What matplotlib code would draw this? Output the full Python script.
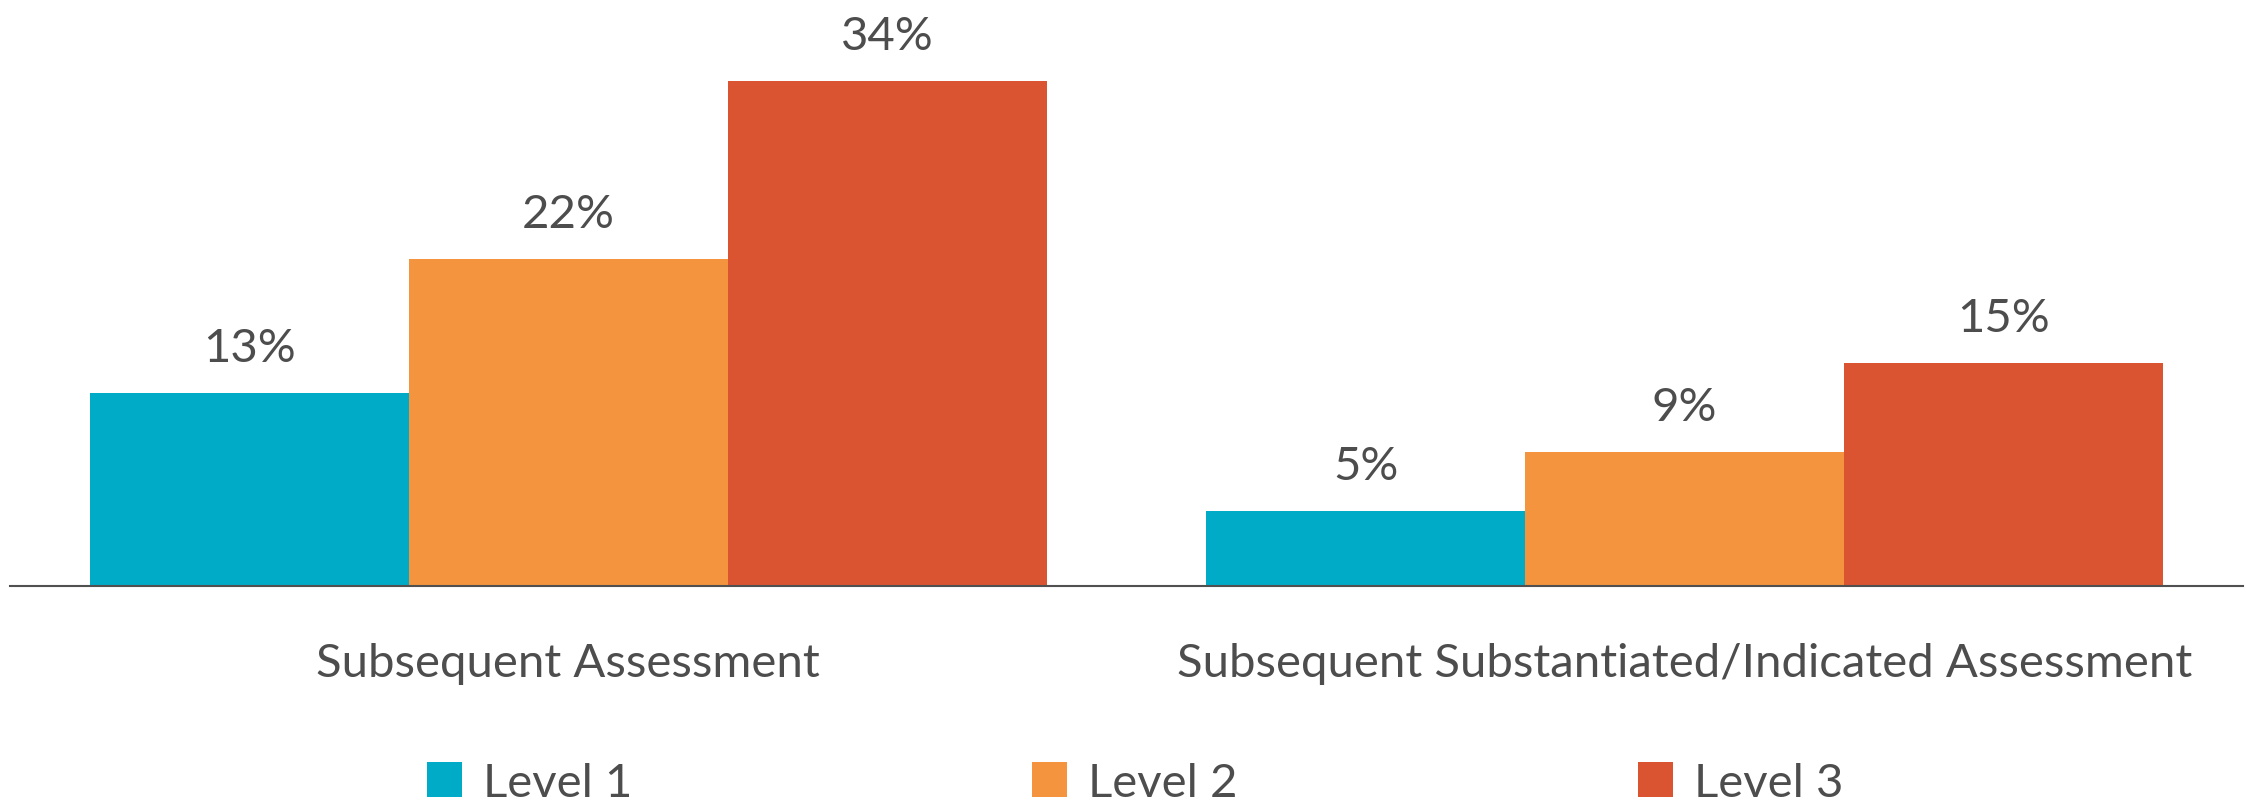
import matplotlib.pyplot as plt
import numpy as np

categories = ["Subsequent Assessment", "Subsequent Substantiated/Indicated Assessment"]
levels = ["Level 1", "Level 2", "Level 3"]
level1 = [13, 5]
level2 = [22, 9]
level3 = [34, 15]
colors = ["#00ABC8", "#F4943E", "#DA5431"]
text_color = "#4D4D4D"

plt.rcParams['font.family'] = ['Lato', 'DejaVu Sans']
fs = 34

fig = plt.figure(figsize=(22.54, 8.03), dpi=100)
ax = fig.add_axes([0.0045, 0.2696, 0.9905, 0.7024])

x = np.arange(len(categories))
w = 2 / 7
for i, (vals, name) in enumerate(zip([level1, level2, level3], levels)):
    bars = ax.bar(x + (i - 1) * w, vals, width=w, color=colors[i], label=name)
    for b, v in zip(bars, vals):
        ax.annotate(f"{v}%", (b.get_x() + b.get_width() / 2, v),
                    xytext=(0, 23), textcoords='offset points',
                    ha='center', va='baseline', fontsize=fs, color=text_color)

ax.set_xlim(-0.5, 1.5)
ax.set_ylim(0, 38)
ax.set_yticks([])
ax.set_xticks(x, categories, fontsize=fs, color=text_color)
ax.tick_params(axis='x', length=0, pad=41)
for s in ['top', 'right', 'left']:
    ax.spines[s].set_visible(False)
ax.spines['bottom'].set_color('#505050')
ax.spines['bottom'].set_linewidth(1.5)

handles, labels = ax.get_legend_handles_labels()
fig.legend(handles, labels, loc='upper left', bbox_to_anchor=(427 / 2254, 1 - 763 / 803),
           ncol=3, frameon=False, fontsize=fs, labelcolor=text_color,
           handlelength=0.74, handleheight=0.74, handletextpad=0.445,
           columnspacing=8.47, borderpad=0, borderaxespad=0)

fig.savefig("out.png", dpi=100)
